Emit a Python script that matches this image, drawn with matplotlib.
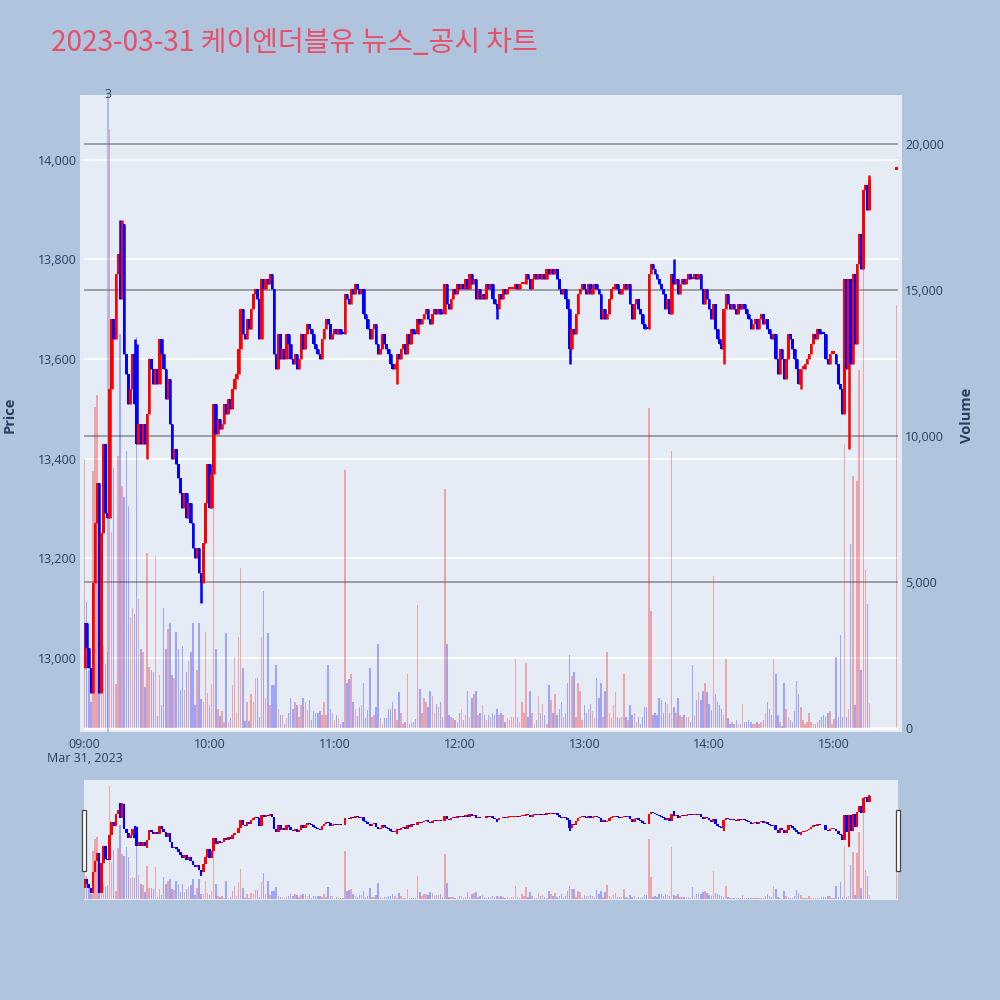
import matplotlib.pyplot as plt
import matplotlib.patches as patches
import matplotlib.transforms as mtransforms

plt.rcParams['font.family'] = ['Open Sans', 'DejaVu Sans']

# minute candles, 09:00 = minute 0
first_open = 12980
closes = [
    13070, 13020, 12980, 12930, 13150, 13270, 13350, 12930, 13250, 13430,
    13290, 13280, 13540, 13680, 13640, 13770, 13810, 13720, 13870, 13610,
    13570, 13510, 13540, 13610, 13510, 13430, 13470, 13430, 13470, 13430,
    13490, 13600, 13580, 13550, 13580, 13550, 13640, 13610, 13580, 13520,
    13560, 13470, 13400, 13420, 13390, 13360, 13330, 13300, 13330, 13280,
    13310, 13270, 13220, 13200, 13220, 13170, 13150, 13230, 13310, 13390,
    13300, 13370, 13510, 13450, 13480, 13460, 13470, 13510, 13490, 13520,
    13500, 13540, 13560, 13570, 13620, 13700, 13650, 13640, 13680, 13660,
    13700, 13730, 13740, 13720, 13640, 13760, 13740, 13760, 13750, 13770,
    13740, 13610, 13580, 13650, 13600, 13620, 13600, 13650, 13630, 13600,
    13590, 13610, 13580, 13600, 13650, 13620, 13650, 13670, 13660, 13650,
    13630, 13620, 13610, 13600, 13640, 13660, 13680, 13670, 13640, 13650,
    13660, 13650, 13660, 13650, 13650, 13730, 13720, 13710, 13740, 13730,
    13750, 13740, 13730, 13740, 13690, 13680, 13660, 13640, 13660, 13670,
    13630, 13610, 13620, 13650, 13630, 13620, 13610, 13590, 13580, 13590,
    13610, 13600, 13620, 13630, 13610, 13650, 13630, 13660, 13650, 13650,
    13680, 13670, 13680, 13690, 13700, 13680, 13670, 13690, 13700, 13690,
    13700, 13690, 13690, 13750, 13710, 13700, 13720, 13740, 13730, 13750,
    13740, 13750, 13740, 13760, 13740, 13770, 13750, 13760, 13720, 13740,
    13720, 13730, 13720, 13750, 13740, 13750, 13720, 13710, 13700, 13730,
    13720, 13740, 13730, 13740, 13740, 13740, 13740, 13750, 13740, 13750,
    13750, 13750, 13770, 13760, 13740, 13760, 13770, 13760, 13770, 13760,
    13770, 13760, 13780, 13770, 13780, 13770, 13780, 13760, 13740, 13730,
    13740, 13720, 13700, 13620, 13660, 13650, 13690, 13730, 13740, 13750,
    13740, 13730, 13750, 13730, 13740, 13750, 13740, 13730, 13680, 13700,
    13680, 13690, 13720, 13740, 13740, 13750, 13740, 13730, 13740, 13750,
    13740, 13750, 13710, 13680, 13710, 13720, 13700, 13690, 13670, 13660,
    13660, 13770, 13790, 13780, 13770, 13760, 13750, 13740, 13730, 13700,
    13720, 13690, 13770, 13750, 13760, 13730, 13750, 13760, 13750, 13760,
    13770, 13760, 13760, 13770, 13760, 13770, 13740, 13710, 13740, 13720,
    13700, 13680, 13710, 13660, 13640, 13630, 13620, 13700, 13730, 13710,
    13700, 13710, 13700, 13690, 13710, 13700, 13710, 13700, 13690, 13680,
    13660, 13670, 13680, 13660, 13680, 13690, 13670, 13680, 13660, 13650,
    13640, 13650, 13600, 13570, 13620, 13600, 13560, 13600, 13650, 13640,
    13620, 13600, 13580, 13550, 13580, 13580, 13590, 13600, 13610, 13630,
    13650, 13640, 13660, 13650, 13650, 13650, 13600, 13590, 13610, 13610,
    13610, 13590, 13550, 13540, 13490, 13760, 13580, 13760, 13590, 13770,
    13630, 13790, 13850, 13780, 13940, 13950, 13900, 13960,
]
volumes = [
    9200, 4300, 2000, 900, 8800, 11000, 11400, 2500, 3500, 2800,
    2200, 2600, 20500, 6700, 8900, 1500, 9300, 13500, 8300, 7900,
    9500, 7600, 3800, 4100, 3900, 13400, 4400, 2700, 2600, 1400,
    6000, 2100, 2000, 1900, 5900, 400, 1800, 800, 4100, 2700,
    3400, 3600, 1800, 1700, 3300, 2700, 1300, 2800, 1300, 1900,
    2300, 2600, 3600, 800, 2000, 3600, 1000, 900, 3300, 1200,
    800, 1500, 8800, 2700, 650, 400, 580, 200, 3250, 200,
    330, 1470, 2420, 520, 3120, 5470, 2040, 250, 900, 250,
    1150, 900, 1720, 1720, 390, 3120, 4700, 1030, 3250, 770,
    1470, 1470, 2170, 650, 450, 450, 140, 330, 500, 1030,
    650, 900, 770, 390, 770, 1030, 900, 600, 970, 260,
    580, 500, 520, 580, 450, 900, 450, 2170, 650, 520,
    260, 450, 300, 140, 200, 8830, 1530, 1660, 1850, 900,
    650, 400, 700, 770, 1530, 330, 600, 2040, 390, 450,
    700, 2870, 330, 140, 330, 330, 650, 650, 900, 650,
    260, 1220, 520, 140, 200, 1850, 140, 200, 200, 300,
    4200, 1340, 520, 1030, 900, 700, 1280, 1090, 520, 830,
    700, 900, 390, 8190, 2870, 450, 390, 330, 260, 200,
    520, 650, 260, 450, 1280, 390, 1030, 1150, 1280, 450,
    520, 770, 450, 260, 450, 390, 520, 450, 650, 450,
    520, 450, 200, 330, 260, 390, 390, 2360, 390, 200,
    900, 520, 2230, 390, 1280, 520, 140, 260, 1090, 520,
    830, 450, 140, 1470, 970, 520, 1150, 450, 650, 900,
    390, 520, 1530, 2490, 1790, 1910, 390, 1530, 1280, 260,
    770, 520, 650, 830, 580, 330, 1720, 1030, 1530, 390,
    1280, 2610, 520, 330, 770, 1220, 390, 330, 390, 1850,
    390, 260, 770, 450, 520, 200, 390, 140, 390, 700,
    700, 10960, 4000, 450, 520, 450, 1030, 970, 520, 900,
    830, 520, 9500, 700, 520, 1030, 450, 390, 450, 390,
    390, 200, 2170, 450, 960, 1220, 970, 1280, 1530, 1220,
    830, 600, 5190, 1150, 900, 770, 650, 450, 2360, 330,
    140, 200, 140, 260, 140, 140, 830, 200, 200, 260,
    200, 140, 140, 200, 140, 200, 260, 520, 900, 650,
    450, 2360, 1850, 450, 200, 80, 1530, 650, 390, 260,
    200, 580, 1600, 1150, 700, 260, 140, 200, 520, 200,
    140, 140, 200, 260, 390, 450, 390, 520, 580, 140,
    300, 2420, 390, 3180, 390, 9710, 390, 650, 6290, 8630,
    770, 8450, 12250, 1980, 16240, 5400, 4260, 840,
]
wick_highs = {17: 13880, 18: 13880, 24: 13640, 25: 13630, 283: 13800, 377: 13970}
wick_lows = {30: 13400, 56: 13110, 150: 13550, 198: 13680, 233: 13590,
             307: 13590, 344: 13540, 367: 13420}

# closing auction at 15:30
auction_minute = 390
auction_price = 13980
auction_volume = 14500

news_minute = 11
news_label = '3'

tick_minutes = [0, 60, 120, 180, 240, 300, 360]
tick_labels = ['09:00', '10:00', '11:00', '12:00', '13:00', '14:00', '15:00']
price_ticks = [13000, 13200, 13400, 13600, 13800, 14000]
volume_ticks = [0, 5000, 10000, 15000, 20000]

title = '2023-03-31 케이엔더블유 뉴스_공시 차트'

# assemble candles
xs = list(range(len(closes))) + [auction_minute]
cl = closes + [auction_price]
op = [first_open] + closes[:-1] + [auction_price]
vol = volumes + [auction_volume]
hi = [max(o, c) for o, c in zip(op, cl)]
lo = [min(o, c) for o, c in zip(op, cl)]
for k, v in wick_highs.items():
    hi[k] = v
for k, v in wick_lows.items():
    lo[k] = v

up = []
prev_c = first_open
last_dir = True
for o, c in zip(op, cl):
    if c > o:
        d = True
    elif c < o:
        d = False
    elif c > prev_c:
        d = True
    elif c < prev_c:
        d = False
    else:
        d = last_dir
    up.append(d)
    last_dir = d
    prev_c = c

candle_colors = ['#ff0000' if d else '#0000ff' for d in up]
vol_colors = [(1, 0, 0, 0.3) if d else (0, 0, 1, 0.3) for d in up]
body_bottom = [min(o, c) for o, c in zip(op, cl)]
body_height = [max(abs(c - o), 5) for o, c in zip(op, cl)]

P_LIM = (12851, 14130)
V_LIM = (-140, 21680)
X_LIM = (-0.3, 390.7)

fig = plt.figure(figsize=(10, 10), dpi=100)
fig.patch.set_facecolor('#B0C4DE')

# plot background (slightly wider than the axes, like plotly)
fig.patches.append(patches.Rectangle((0.080, 0.268), 0.822, 0.637, transform=fig.transFigure,
                                     facecolor='#E5ECF6', edgecolor='none', zorder=-1))

ax_vol = fig.add_axes([0.084, 0.268, 0.814, 0.637])
ax_vol.set_facecolor('none')
ax_price = ax_vol.twinx()

ax_vol.set_xlim(*X_LIM)
ax_vol.set_ylim(*V_LIM)
ax_price.set_ylim(*P_LIM)

# price grid (white) drawn beneath the volume bars
for p in price_ticks:
    v = V_LIM[0] + (p - P_LIM[0]) / (P_LIM[1] - P_LIM[0]) * (V_LIM[1] - V_LIM[0])
    ax_vol.axhline(v, color='white', lw=1.3, zorder=0)
for v in volume_ticks[1:]:
    ax_vol.axhline(v, color='#8a8a8a', lw=1.1, zorder=0.5)
ax_vol.axhline(0, color='white', lw=2, zorder=0.6)

ax_vol.bar(xs, vol, width=0.7, color=vol_colors, linewidth=0, zorder=1)
ax_vol.axvline(news_minute, color=(0.35, 0.45, 0.95, 0.45), lw=1.3, zorder=1.2)

ax_price.vlines(xs, lo, hi, colors=candle_colors, lw=1.8, zorder=3)
ax_price.bar(xs, body_height, bottom=body_bottom, width=1.25, color=candle_colors,
             linewidth=0, zorder=3)

tick_col = '#2a3f5f'
for ax in (ax_vol, ax_price):
    for s in ax.spines.values():
        s.set_visible(False)
ax_vol.set_xticks(tick_minutes)
ax_vol.set_xticklabels(tick_labels)
ax_vol.tick_params(axis='x', length=0, pad=4, labelsize=9, labelcolor=tick_col)

ax_price.yaxis.set_ticks_position('left')
ax_price.yaxis.set_label_position('left')
ax_price.set_yticks(price_ticks)
ax_price.set_yticklabels([f'{p:,}' for p in price_ticks])
ax_price.tick_params(axis='y', length=0, pad=5, labelsize=9, labelcolor=tick_col)

ax_vol.yaxis.set_ticks_position('right')
ax_vol.set_yticks(volume_ticks)
ax_vol.set_yticklabels([f'{v:,}' for v in volume_ticks])
ax_vol.tick_params(axis='y', length=0, pad=5, labelsize=9, labelcolor=tick_col)

trans = mtransforms.blended_transform_factory(ax_vol.transData, ax_vol.transAxes)
ax_vol.text(news_minute, 1.0, news_label, transform=trans, ha='center', va='center',
            fontsize=9, color=tick_col)

fig.text(0.085, 0.242, 'Mar 31, 2023', ha='center', va='center', fontsize=9, color=tick_col)
fig.text(0.010, 0.585, 'Price', rotation=90, ha='center', va='center', fontsize=10.5,
         fontweight='bold', color=tick_col)
fig.text(0.967, 0.585, 'Volume', rotation=90, ha='center', va='center', fontsize=10.5,
         fontweight='bold', color=tick_col)

fig.text(0.051, 0.949, title, ha='left', va='baseline', fontsize=20.2, color='#E8506A',
         family=['Noto Sans CJK KR', 'DejaVu Sans'])

# range slider
ax_mv = fig.add_axes([0.084, 0.100, 0.814, 0.120])
ax_mv.set_facecolor('#E5ECF6')
ax_mp = ax_mv.twinx()
ax_mv.set_xlim(*X_LIM)
ax_mv.set_ylim(*V_LIM)
ax_mp.set_ylim(*P_LIM)
ax_mv.bar(xs, vol, width=0.7, color=vol_colors, linewidth=0)
ax_mp.vlines(xs, lo, hi, colors=candle_colors, lw=1.5)
ax_mp.bar(xs, body_height, bottom=body_bottom, width=1.25, color=candle_colors, linewidth=0)
for ax in (ax_mv, ax_mp):
    ax.set_xticks([])
    ax.set_yticks([])
    for s in ax.spines.values():
        s.set_visible(False)

for hx in (0.082, 0.896):
    fig.patches.append(patches.Rectangle((hx, 0.129), 0.0035, 0.061, transform=fig.transFigure,
                                         facecolor='white', edgecolor='#444444', lw=0.9, zorder=5))

fig.savefig('out.png', dpi=100)
